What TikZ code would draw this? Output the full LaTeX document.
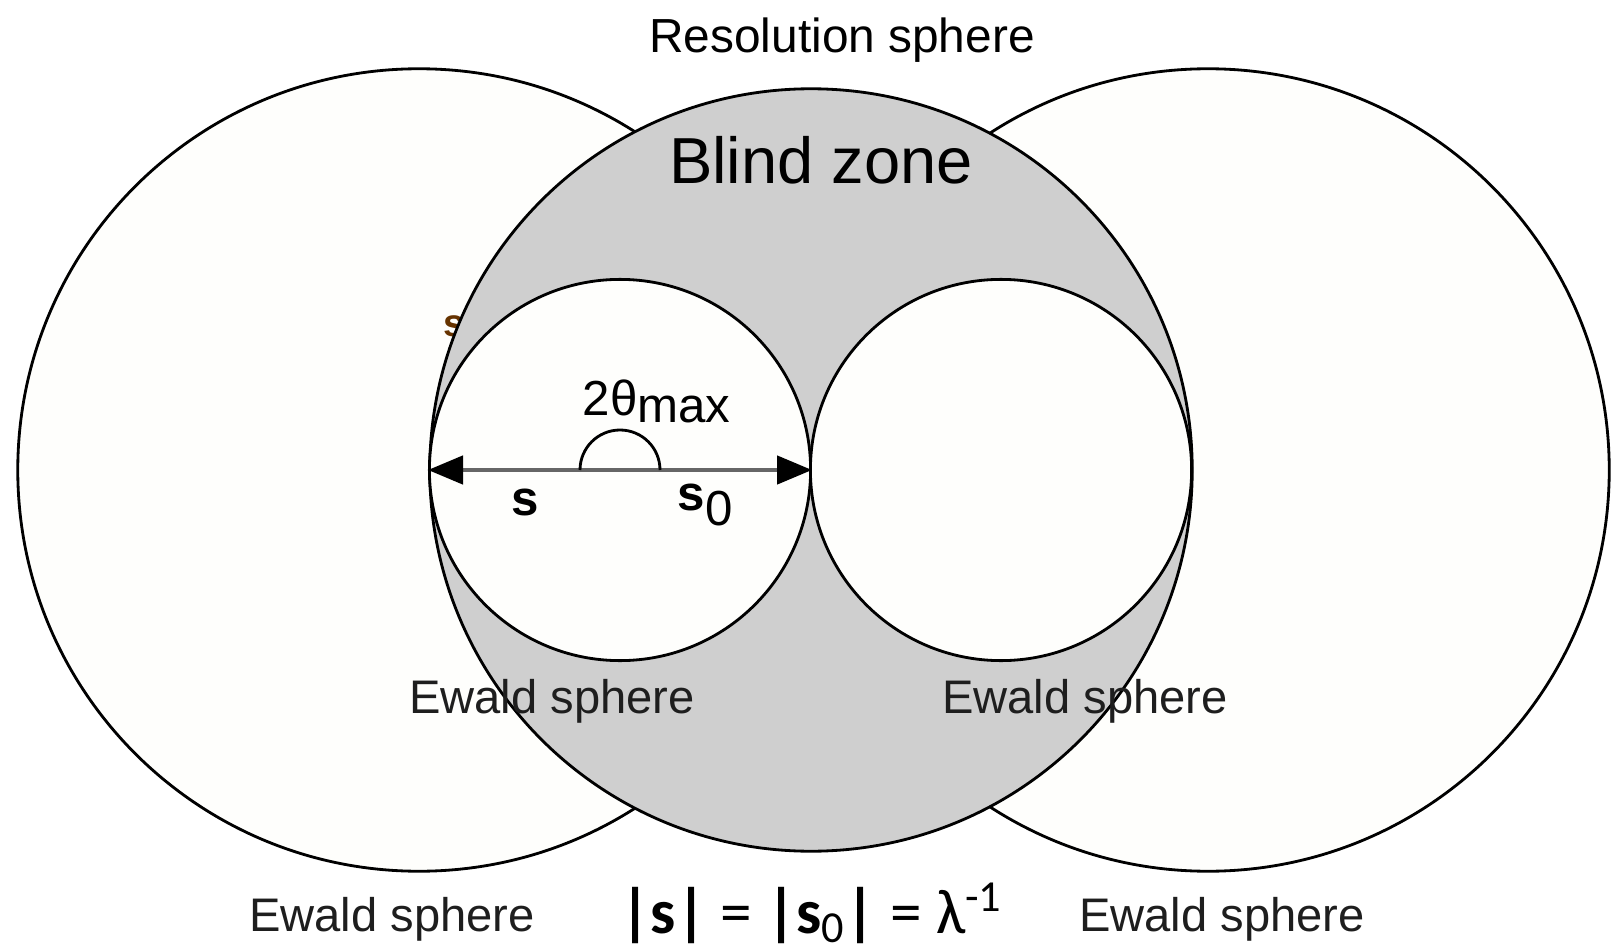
\documentclass[tikz,border=0pt]{standalone}
\usepackage{fontspec}
\setmainfont{Liberation Sans}
\newfontfamily\formfont{Carlito}
\usetikzlibrary{arrows.meta, positioning}
\definecolor{blindgray}{RGB}{207,207,207}
\definecolor{paper}{RGB}{254,254,252}
\definecolor{inkgray}{RGB}{30,30,30}

\begin{document}
\begin{tikzpicture}[x=0.01cm, y=-0.01cm,
    sphere/.style={circle, draw, line width=0.8pt, inner sep=0pt, fill=paper},
    vec/.style={-{Triangle[length=0.35cm, width=0.28cm, black]}, line width=1.3pt, draw=gray!80!black},
    lbl/.style={font=\fontsize{13.4}{15}\selectfont, text=inkgray},
    sym/.style={font=\fontsize{14}{16}\selectfont, inner sep=0pt}
]
\useasboundingbox (0,0) rectangle (1613,949);

% --- Outer Ewald spheres ---
\node[sphere, minimum size=8.02cm] (ewaldOutL) at (419,470) {};
\node[sphere, minimum size=8.02cm] (ewaldOutR) at (1208,470) {};
\node[font=\fontsize{11}{12}\selectfont\bfseries, text=orange!40!black] (stray) at (454,326) {s};

% --- Resolution sphere and blind zone ---
\node[sphere, fill=blindgray, minimum size=7.62cm] (res) at (811,470) {};
\node[sphere, minimum size=3.81cm] (ewaldL) at (620,470) {};
\node[sphere, minimum size=3.81cm] (ewaldR) at (1001,470) {};

% --- Vectors and angle ---
\draw[vec] (ewaldL.center) -- (ewaldL.west);
\draw[vec] (ewaldL.center) -- (ewaldL.east);
\draw[line width=0.8pt] (ewaldL.center) ++(40,0) arc (0:-180:40);
\node[sym, anchor=base west] (theta) at (582,415) {2θ\raisebox{-0.07cm}{max}};
\node[sym, anchor=base] (sVec) at (525,515) {\bfseries s};
\node[sym, anchor=base west] (s0Vec) at (677,510) {\bfseries s\raisebox{-0.15cm}{\mdseries 0}};

% --- Labels ---
\node[font=\fontsize{13.6}{15}\selectfont] (resLbl) at (842,40) {Resolution sphere};
\node[font=\fontsize{18.5}{20}\selectfont] (blind) at (821,160) {Blind zone};
\node[lbl] (ewaldInL) at (552,701) {Ewald sphere};
\node[lbl] (ewaldInR) at (1085,701) {Ewald sphere};
\node[lbl] (ewaldBotL) at (392,919) {Ewald sphere};
\node[lbl] (ewaldBotR) at (1222,919) {Ewald sphere};
\node[font=\formfont\fontsize{18}{20}\selectfont, inner sep=0pt] (rel) at (812,913)
  {\textbf{|s|} = \textbf{|s}\textsubscript{0}\textbf{|} = λ\textsuperscript{-1}};

\end{tikzpicture}
\end{document}
